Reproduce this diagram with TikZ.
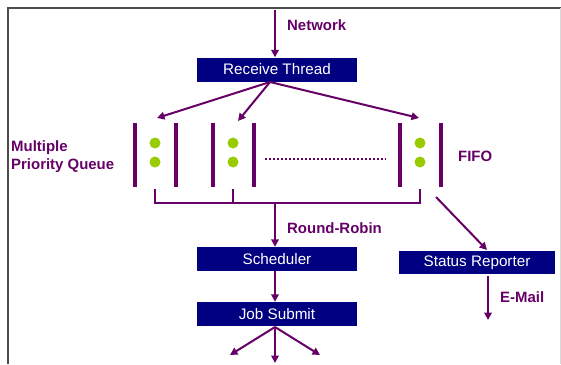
\documentclass[tikz,border=0pt]{standalone}
\usepackage{fontspec}
\setmainfont{Liberation Sans}
\usetikzlibrary{arrows.meta,calc}
\definecolor{purp}{HTML}{660066}
\definecolor{navyb}{HTML}{000080}
\definecolor{limeg}{HTML}{99CC00}
\begin{document}
\begin{tikzpicture}[x=1bp,y=-1bp,
 box/.style={draw=none,fill=navyb,text=white,minimum width=160bp,minimum height=24bp,inner sep=0pt,font=\fontsize{15.3}{16}\selectfont},
 lbl/.style={text=purp,font=\bfseries\fontsize{15}{18}\selectfont,inner sep=0pt},
 conn/.style={draw=purp,line width=2bp,-{Triangle[length=7.5bp,width=7.5bp]}},
 plain/.style={draw=purp,line width=2bp},
 qbar/.style={draw=purp,line width=4.5bp},
 gdot/.style={circle,fill=limeg,minimum size=11bp,inner sep=0pt},
]
\useasboundingbox (0,0) rectangle (561,364);
\fill[white] (0,0) rectangle (561,364);
\draw[black!70,line width=2bp] (7.5,364) -- (7.5,8) -- (561,8);
\draw[black!15,line width=1bp] (560,8) -- (560,364);

% boxes
\node[box] (rt) at (277,69.5) {Receive Thread};
\node[box] (sch) at (277,259) {Scheduler};
\node[box] (job) at (277,314) {Job Submit};
\node[box,minimum width=156bp,minimum height=23bp] (sr) at (477,262.5) {Status Reporter};

% labels
\node[lbl,anchor=west] (lnet) at (287,25) {Network};
\node[lbl,anchor=west] (lrr) at (287,228) {Round-Robin};
\node[lbl,anchor=west] (lfifo) at (458,156) {FIFO};
\node[lbl,anchor=west,align=left] (lmpq) at (11,157) {Multiple\\Priority Queue};
\node[lbl,anchor=west] (lmail) at (500,297) {E-Mail};

% queues
\foreach \n/\x in {q1/155,q2/233,q3/420}{
  \coordinate (\n) at (\x,155);
  \draw[qbar] (\x-20,123) -- (\x-20,187);
  \draw[qbar] (\x+21,123) -- (\x+21,187);
  \node[gdot] (\n a) at (\x,143) {};
  \node[gdot] (\n b) at (\x,162) {};
}
\draw[purp,line width=2bp,dash pattern=on 2bp off 2bp] (265,159) -- (386,159);

% network arrow
\coordinate (netstart) at (275,10);
\draw[conn] (netstart) -- (netstart |- rt.north);

% receive thread to queues
\coordinate (rtfan) at (270,82);
\coordinate (t1) at (157,118);
\coordinate (t2) at (238,121);
\coordinate (t3) at (419,118);
\draw[conn] (rtfan) -- (t1);
\draw[conn] (rtfan) -- (t2);
\draw[conn] (rtfan) -- (t3);

% bracket
\coordinate (bl) at (155,203);
\coordinate (br) at (420,203);
\draw[plain] (155,189) -- (bl) -- (br) -- (420,189);
\draw[plain] (233,189) -- (233,203);
\coordinate (rrs) at (275,203);
\draw[conn] (rrs) -- (rrs |- sch.north);

% scheduler -> job
\draw[conn] (sch.south -| rrs) -- (job.north -| rrs);

% status reporter
\coordinate (srs) at (436,197);
\draw[conn] (srs) -- (487,250);
\coordinate (mail) at (488,320);
\draw[conn] (sr.south -| mail) ++(0,2) -- (mail);

% job submit fan
\coordinate (jfan) at (275,327);
\coordinate (j1) at (230,355);
\coordinate (j2) at (275,363);
\coordinate (j3) at (320,355);
\draw[conn] (jfan) -- (j1);
\draw[conn] (jfan) -- (j2);
\draw[conn] (jfan) -- (j3);
\end{tikzpicture}
\end{document}
